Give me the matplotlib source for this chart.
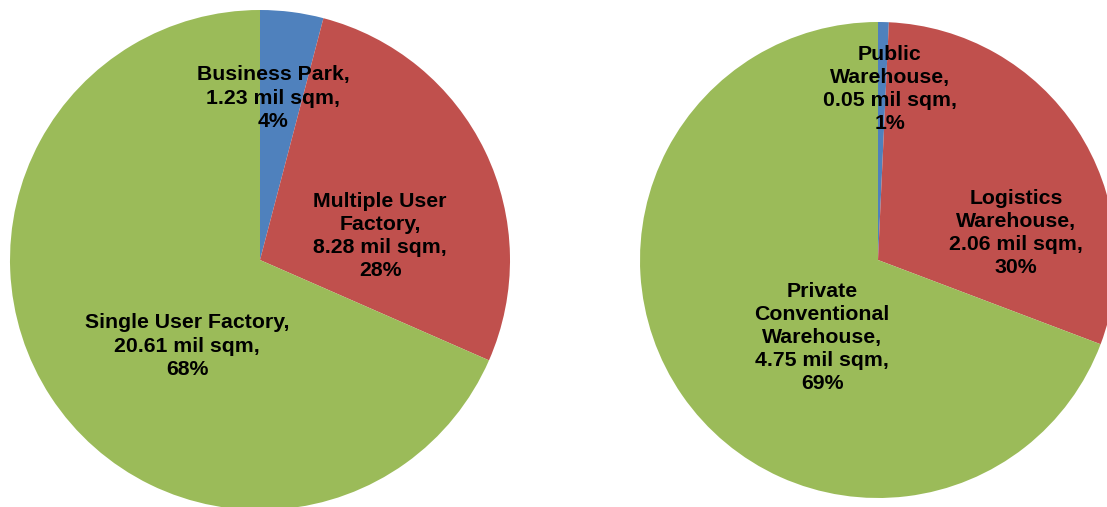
import matplotlib
matplotlib.use("Agg")
import matplotlib.pyplot as plt

# industrial stock, million sqm
factory_labels = ["Business Park", "Multiple User\nFactory", "Single User Factory"]
factory_values = [1.23, 8.28, 20.61]
factory_pct = [4, 28, 68]

warehouse_labels = ["Public\nWarehouse", "Logistics\nWarehouse", "Private\nConventional\nWarehouse"]
warehouse_values = [0.05, 2.06, 4.75]
warehouse_pct = [1, 30, 69]

colors = ["#4F81BD", "#C0504D", "#9BBB59"]

plt.rcParams["font.family"] = ["Liberation Sans", "DejaVu Sans"]

fig = plt.figure(figsize=(11.07, 5.07), dpi=100)


def draw_pie(rect, labels, values, pct, label_pos):
    ax = fig.add_axes(rect)
    ax.pie(values, colors=colors, startangle=90, counterclock=False,
           radius=1, wedgeprops=dict(linewidth=0))
    for lab, v, p, (x, y) in zip(labels, values, pct, label_pos):
        txt = "%s,\n%.2f mil sqm,\n%d%%" % (lab, v, p)
        ax.text(x, y, txt, ha="center", va="center", fontsize=15.3,
                fontweight="bold", linespacing=1.27, color="black")
    ax.set_xlim(-1, 1)
    ax.set_ylim(-1, 1)
    ax.set_aspect("equal")
    ax.axis("off")
    return ax


W, H = 1107, 507
# left pie: centre (260, 260) px, r 250
draw_pie([10 / W, (H - 260 - 250) / H, 500 / W, 500 / H],
         factory_labels, factory_values, factory_pct,
         [(0.052, 0.648), (0.48, 0.096), (-0.292, -0.344)])
# right pie: centre (878, 260) px, r 238
draw_pie([640 / W, (H - 260 - 238) / H, 476 / W, 476 / H],
         warehouse_labels, warehouse_values, warehouse_pct,
         [(0.05, 0.72), (0.58, 0.113), (-0.235, -0.324)])

fig.savefig("out.png", dpi=100)
